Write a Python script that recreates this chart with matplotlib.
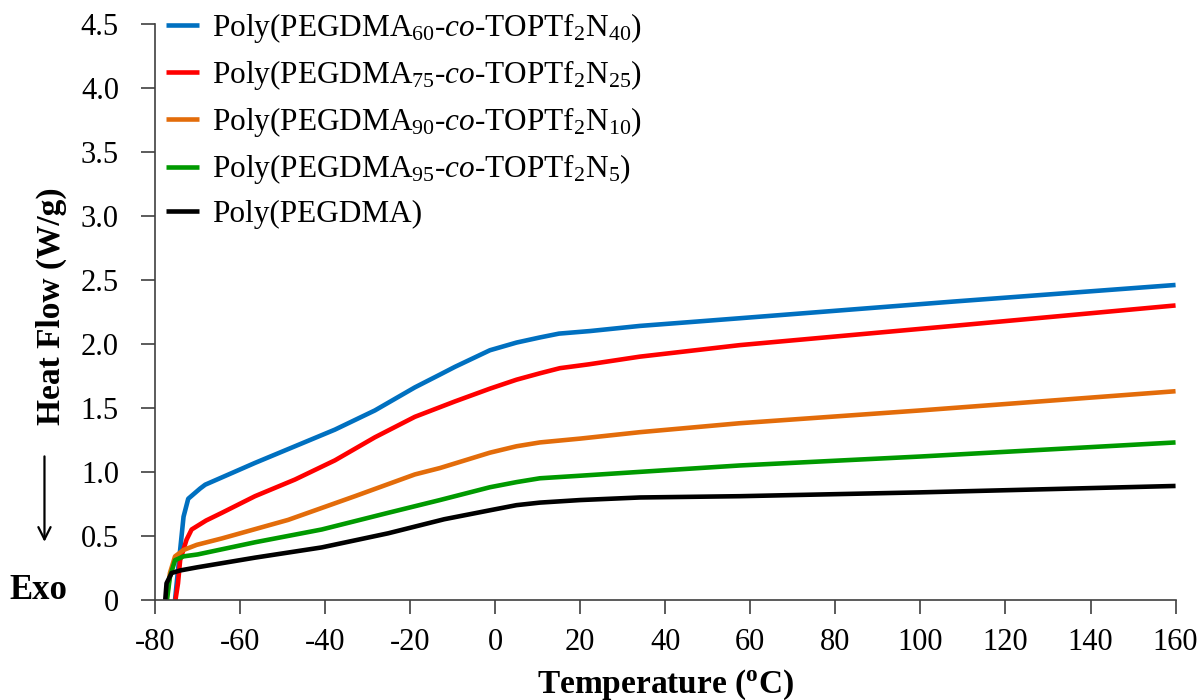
import numpy as np
import matplotlib
matplotlib.use("Agg")
import matplotlib.pyplot as plt

plt.rcParams['font.family'] = 'Liberation Serif'
plt.rcParams['mathtext.fontset'] = 'custom'
plt.rcParams['mathtext.rm'] = 'Liberation Serif'
plt.rcParams['mathtext.it'] = 'Liberation Serif:italic'
plt.rcParams['mathtext.bf'] = 'Liberation Serif:bold'
plt.rcParams['axes.unicode_minus'] = False

# Curvas de DSC (temperatura em °C, fluxo em W/g)
t_40 = [-75.3, -74.7, -74.1, -73.3, -72.2, -69.4, -68.2, -56.5, -47.1, -37.7, -28.3,
        -18.9, -13, -9.5, -1.25, 5, 10.5, 15, 22.3, 34, 45.8, 57.5, 107.6, 160]
hf_40 = [0, 0.2, 0.39, 0.65, 0.79, 0.87, 0.90, 1.07, 1.20, 1.33, 1.48,
         1.66, 1.76, 1.82, 1.95, 2.01, 2.05, 2.08, 2.10, 2.14, 2.17, 2.20, 2.33, 2.46]

t_25 = [-75.2, -74.6, -74.1, -72.6, -71.4, -68, -64.3, -56.5, -47.1, -37.7, -28.3,
        -18.9, -9.5, -1.25, 5, 10.5, 15.2, 22, 34, 57.5, 107.6, 160]
hf_25 = [0, 0.13, 0.31, 0.47, 0.55, 0.62, 0.68, 0.81, 0.94, 1.09, 1.27,
         1.43, 1.55, 1.65, 1.72, 1.77, 1.81, 1.84, 1.90, 1.99, 2.14, 2.30]

t_10 = [-77.3, -76.5, -75.3, -73.3, -70.2, -64.3, -48.7, -33, -18.9, -13, -1.25,
        5, 10.5, 20, 34, 57.5, 100, 160]
hf_10 = [0, 0.21, 0.34, 0.39, 0.43, 0.48, 0.625, 0.81, 0.98, 1.03, 1.15,
         1.20, 1.23, 1.26, 1.31, 1.38, 1.48, 1.63]

t_5 = [-77.2, -76.5, -75.3, -73.3, -70, -56.5, -40.8, -25.2, -13, -1.25,
       5, 10.5, 20, 34, 57.5, 100, 160]
hf_5 = [0, 0.18, 0.31, 0.34, 0.355, 0.45, 0.55, 0.68, 0.78, 0.88,
        0.92, 0.95, 0.97, 1.00, 1.05, 1.12, 1.23]

t_0 = [-77.6, -77.3, -76.1, -74.1, -70, -56.5, -40.8, -25.2, -12, -1.25,
       5, 10.5, 20, 34, 57.5, 100, 160]
hf_0 = [0, 0.13, 0.21, 0.23, 0.255, 0.33, 0.41, 0.52, 0.63, 0.70,
        0.74, 0.76, 0.78, 0.80, 0.81, 0.84, 0.89]

rotulos = [
    r'Poly(PEGDMA$_{60}$-$\mathit{co}$-TOPTf$_{2}$N$_{40}$)',
    r'Poly(PEGDMA$_{75}$-$\mathit{co}$-TOPTf$_{2}$N$_{25}$)',
    r'Poly(PEGDMA$_{90}$-$\mathit{co}$-TOPTf$_{2}$N$_{10}$)',
    r'Poly(PEGDMA$_{95}$-$\mathit{co}$-TOPTf$_{2}$N$_{5}$)',
    'Poly(PEGDMA)',
]
cores = ['#0070C0', '#FF0000', '#E36C0A', '#009A00', '#000000']
series = [(t_40, hf_40), (t_25, hf_25), (t_10, hf_10), (t_5, hf_5), (t_0, hf_0)]

fig = plt.figure(figsize=(12.02, 7), dpi=100)
ax = fig.add_axes([0.129, 0.143, 0.849, 0.823])

for (t, hf), lab, c in zip(series, rotulos, cores):
    ax.plot(t, hf, color=c, lw=3.3, label=lab, solid_capstyle='butt', solid_joinstyle='round')

ax.set_xlim(-80, 160)
ax.set_ylim(0, 4.5)
ax.set_xticks(np.arange(-80, 161, 20))
ax.set_yticks(np.arange(0, 4.51, 0.5))
ax.set_yticklabels(['0'] + ['%.1f' % v for v in np.arange(0.5, 4.51, 0.5)])

for s in ['top', 'right']:
    ax.spines[s].set_visible(False)
for s in ['left', 'bottom']:
    ax.spines[s].set_color('#404040')
    ax.spines[s].set_linewidth(1.2)
ax.tick_params(direction='out', length=10, width=1.2, color='#404040', labelsize=22)
ax.tick_params(axis='x', pad=10)
ax.tick_params(axis='y', pad=16)

ax.set_xlabel(r'Temperature ($\mathbf{^{o}}$C)', fontsize=24, fontweight='bold', labelpad=8)
fig.text(0.043, 0.562, 'Heat Flow (W/g)', rotation=90, fontsize=24, fontweight='bold',
         ha='center', va='center')
ax.annotate('', xy=(0.037, 0.222), xytext=(0.037, 0.352), xycoords='figure fraction',
            arrowprops=dict(arrowstyle='->', color='black', lw=1.6, mutation_scale=22))
fig.text(0.032, 0.157, 'Exo', fontsize=25, fontweight='bold', ha='center', va='center')

ax.legend(loc='upper left', bbox_to_anchor=(-0.011, 1.06), frameon=False, fontsize=22.5,
          handlelength=1.06, handletextpad=0.42, labelspacing=0.42, borderaxespad=0.3)

fig.savefig('out.png', dpi=100)
